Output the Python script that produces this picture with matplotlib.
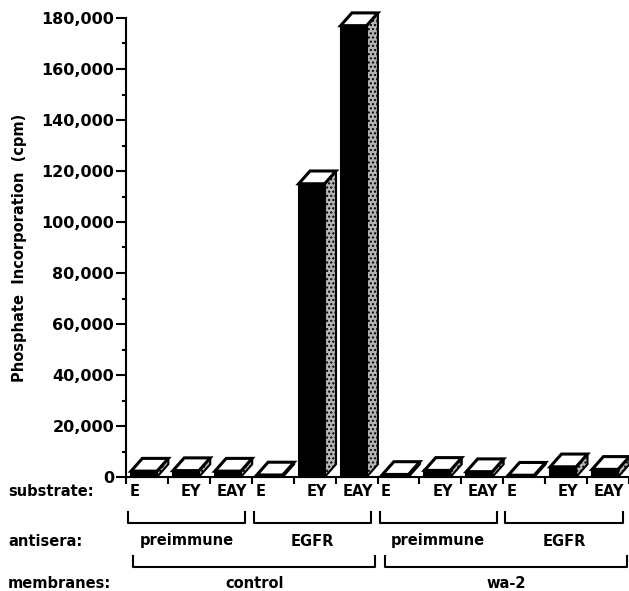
import matplotlib
matplotlib.use("Agg")
import matplotlib.pyplot as plt
from matplotlib.patches import Polygon
from matplotlib.ticker import MultipleLocator, FuncFormatter
from matplotlib import transforms

# data
substrates = ["E", "EY", "EAY"] * 4
antisera = ["preimmune", "EGFR", "preimmune", "EGFR"]
membranes = ["control", "wa-2"]
cpm = [2300, 2500, 2300, 800, 115000, 177000,
       1000, 2600, 2100, 700, 4000, 3000]

W, H = 629, 591
fig = plt.figure(figsize=(W / 100, H / 100), dpi=100)
plt.rcParams["font.family"] = "DejaVu Sans"
ax = fig.add_axes([126 / W, (H - 477) / H, (W - 126) / W, 459 / H])

ax.set_xlim(0, 12)
ax.set_ylim(0, 180000)

# 3d look: front face, side face, top face
x0, bw = 0.12, 0.62          # front face start / width (in slot units)
dx, dy = 0.27, 5000          # depth offset
for i, v in enumerate(cpm):
    l, r = i + x0, i + x0 + bw
    front = Polygon([(l, 0), (r, 0), (r, v), (l, v)], closed=True,
                    facecolor="black", edgecolor="black", lw=1.5, clip_on=False)
    side = Polygon([(r, 0), (r + dx, dy), (r + dx, v + dy), (r, v)], closed=True,
                   facecolor="#b5b5b5", edgecolor="black", hatch="....",
                   lw=1.5, clip_on=False)
    top = Polygon([(l, v), (r, v), (r + dx, v + dy), (l + dx, v + dy)], closed=True,
                  facecolor="white", edgecolor="black", lw=2.2, clip_on=False,
                  joinstyle="miter")
    for p in (side, front, top):
        ax.add_patch(p)

for s in ("top", "right"):
    ax.spines[s].set_visible(False)
ax.spines["left"].set_linewidth(1.5)
ax.spines["bottom"].set_linewidth(1.5)

ax.yaxis.set_major_locator(MultipleLocator(20000))
ax.yaxis.set_minor_locator(MultipleLocator(10000))
ax.yaxis.set_major_formatter(FuncFormatter(lambda v, p: f"{int(v):,}"))
ax.tick_params(axis="y", which="major", length=7, width=1.5, labelsize=11.5, pad=1.5)
ax.tick_params(axis="y", which="minor", length=3, width=1.5)
for t in ax.get_yticklabels():
    t.set_fontweight("bold")
ax.set_xticks(range(13))
ax.tick_params(axis="x", length=5, width=1.5, labelbottom=False)

ax.set_ylabel("Phosphate  Incorporation  (cpm)", fontsize=10.5,
              fontweight="bold", labelpad=10)

# category rows under the axis
tr = transforms.blended_transform_factory(ax.transData, fig.transFigure)
fy = lambda py: 1 - py / H
kw = dict(fontsize=10.5, fontweight="bold", ha="center", va="center")
row_kw = dict(fontsize=10.5, fontweight="bold", ha="left", va="center")

fig.text(8 / W, fy(491), "substrate:", **row_kw)
fig.text(8 / W, fy(541), "antisera:", **row_kw)
fig.text(8 / W, fy(584), "membranes:", **row_kw)

label_off = {"E": 0.2, "EY": 1.55, "EAY": 2.52}
for i, s in enumerate(substrates):
    g = (i // 3) * 3
    ax.text(g + label_off[s], fy(491), s, transform=tr, **kw)

def bracket(a, b, py):
    ax.plot([a, a, b, b], [fy(py - 11), fy(py), fy(py), fy(py - 11)],
            color="black", lw=1.5, transform=tr, clip_on=False)

for j, name in enumerate(antisera):
    a, b = j * 3 + 0.05, j * 3 + 2.85
    bracket(a, b, 523)
    ax.text((a + b) / 2, fy(541), name, transform=tr, **kw)

for k, name in enumerate(membranes):
    a, b = k * 6 + 0.17, k * 6 + 5.95
    bracket(a, b, 567)
    ax.text((a + b) / 2, fy(584), name, transform=tr, **kw)

fig.savefig("out.png", dpi=100)
